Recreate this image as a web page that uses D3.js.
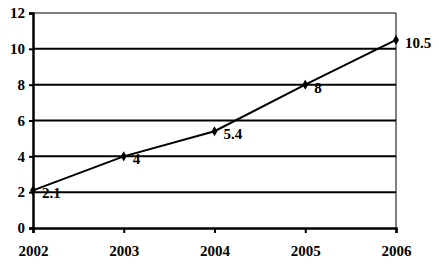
<!DOCTYPE html>
<html>
<head>
<meta charset="utf-8">
<script src="https://cdn.jsdelivr.net/npm/d3@7"></script>
<style>
  body { margin: 0; background: #fff; }
  svg { display: block; }
  svg text { font-family: "Liberation Serif", "DejaVu Serif", "Times New Roman", serif !important; fill: #000; }
</style>
</head>
<body>
<div id="chart"></div>
<script>
const years = ["2002", "2003", "2004", "2005", "2006"];
const values = [2.1, 4, 5.4, 8, 10.5];
const valueLabels = ["2.1", "4", "5.4", "8", "10.5"];
const yTicks = [0, 2, 4, 6, 8, 10, 12];

const W = 439, H = 268;
const margin = { top: 13, right: 43, bottom: 40, left: 33 };
const width = W - margin.left - margin.right;
const height = H - margin.top - margin.bottom;

const svg = d3.select("#chart").append("svg")
    .attr("width", W)
    .attr("height", H);
const g = svg.append("g")
    .attr("transform", `translate(${margin.left},${margin.top})`);

const x = d3.scalePoint().domain(years).range([0, width]);
const y = d3.scaleLinear().domain([0, 12]).range([height, 0]);

// gridlines
g.selectAll("line.grid")
    .data(yTicks.filter(d => d > 0 && d < 12))
    .join("line")
    .attr("class", "grid")
    .attr("x1", 0).attr("x2", width)
    .attr("y1", d => y(d)).attr("y2", d => y(d))
    .attr("stroke", "#000").attr("stroke-width", 2);

// plot frame (top + right)
g.append("line").attr("x1", 0).attr("x2", width).attr("y1", 0).attr("y2", 0)
    .attr("stroke", "#000").attr("stroke-width", 1);
g.append("line").attr("x1", width).attr("x2", width).attr("y1", 0).attr("y2", height)
    .attr("stroke", "#000").attr("stroke-width", 1);

// y axis
const yAxis = g.append("g")
    .attr("font-family", null)
    .call(d3.axisLeft(y).tickValues(yTicks).tickSize(4).tickPadding(4));
yAxis.select(".domain").attr("stroke-width", 2.5);
yAxis.selectAll(".tick line").attr("stroke-width", 2);
yAxis.selectAll("text")
    .attr("font-size", 15).attr("font-weight", "bold");

// x axis
const xAxis = g.append("g")
    .attr("transform", `translate(0,${height})`)
    .call(d3.axisBottom(x).tickSizeOuter(0).tickSize(5).tickPadding(12));
xAxis.select(".domain").attr("stroke-width", 2.5);
xAxis.selectAll(".tick line").attr("stroke-width", 2);
xAxis.selectAll("text")
    .attr("font-size", 15).attr("font-weight", "bold");

// series line
const line = d3.line()
    .x((d, i) => x(years[i]))
    .y(d => y(d));
g.append("path")
    .datum(values)
    .attr("fill", "none")
    .attr("stroke", "#000")
    .attr("stroke-width", 2)
    .attr("d", line);

// diamond markers
g.selectAll("path.marker")
    .data(values)
    .join("path")
    .attr("class", "marker")
    .attr("d", d3.symbol().type(d3.symbolDiamond).size(30))
    .attr("transform", (d, i) => `translate(${x(years[i])},${y(d)})`)
    .attr("fill", "#000");

// data labels
g.selectAll("text.lbl")
    .data(values)
    .join("text")
    .attr("class", "lbl")
    .attr("x", (d, i) => x(years[i]) + 9)
    .attr("y", d => y(d) + 8)
    .attr("font-size", 15)
    .attr("font-weight", "bold")
    .text((d, i) => valueLabels[i]);
</script>
</body>
</html>
